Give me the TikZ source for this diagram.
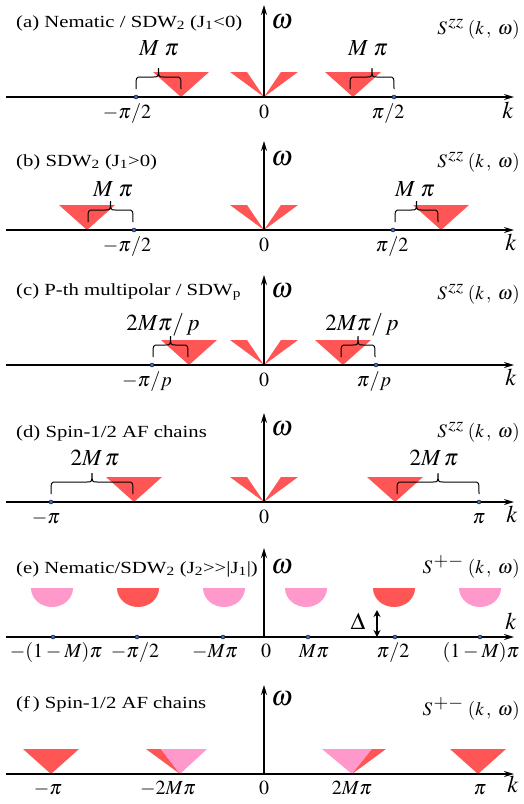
\documentclass[tikz,border=0pt]{standalone}
\usepackage{mathptmx}
\usepackage[no-math]{fontspec}
\setmainfont{Liberation Serif}
\newfontfamily\ttlfont[FakeStretch=1.22]{Liberation Serif}
\usepackage{xcolor}
\usetikzlibrary{arrows.meta}
\definecolor{peakred}{HTML}{FF5555}
\definecolor{peakpink}{HTML}{FF99CC}
\definecolor{dotblue}{HTML}{3C78C8}
% continuum below a soft point: inverted cone
\newcommand{\vcone}[2]{\fill[#2] (#1-28,-25) -- (#1+28,-25) -- (#1,0) -- cycle;}
% the two thin wedges at k=0
\newcommand{\spinwave}{%
  \fill[peakred] (264,0) -- (230,-25) -- (247,-25) -- cycle;
  \fill[peakred] (264,0) -- (281,-25) -- (298,-25) -- cycle;}
% gapped band
\newcommand{\bowl}[2]{\fill[#2] (#1-21,-49) .. controls (#1-21,-38.5) and (#1-11.6,-30) .. (#1,-30)
  .. controls (#1+11.6,-30) and (#1+21,-38.5) .. (#1+21,-49) -- cycle;}
% curly brace over a shift
\newcommand{\spanbrace}[2]{\draw[line width=1pt] (#1,-8) .. controls (#1,-20) .. (#1+5,-20)
  -- ({(#1+#2)/2-5},-20) .. controls ({(#1+#2)/2},-20) .. ({(#1+#2)/2},-29)
  .. controls ({(#1+#2)/2},-20) .. ({(#1+#2)/2+5},-20) -- (#2-5,-20) .. controls (#2,-20) .. (#2,-8);}
% structure factor labels
\newcommand{\szz}{$S^{\,\textstyle zz}\;(k\,,\;\omega)$}
\newcommand{\spm}{$S^{\,\textstyle {+}{-}}\;(k\,,\;\omega)$}

\begin{document}
\begin{tikzpicture}[
  x=1pt, y=-1pt,
  axline/.style={-{Stealth[length=10pt,width=6pt]}, line width=1.5pt},
  gaparr/.style={{Stealth[length=7pt,width=7pt]}-{Stealth[length=7pt,width=7pt]}, line width=1.5pt},
  kdot/.style={circle, draw=black, fill=dotblue, line width=0.4pt, inner sep=0pt, minimum size=4pt},
  ttl/.style={anchor=base west, inner sep=0pt, font=\fontsize{17}{20}\ttlfont},
  fnl/.style={anchor=base east, inner sep=0pt, font=\fontsize{19}{22}\selectfont},
  wlab/.style={anchor=base west, inner sep=0pt, font=\fontsize{28}{32}\selectfont},
  ticklab/.style={anchor=base, inner sep=0pt, font=\fontsize{20}{24}\selectfont},
  klab/.style={anchor=base, inner sep=0pt, font=\fontsize{24}{28}\selectfont},
  spanlab/.style={anchor=base, inner sep=0pt, font=\fontsize{23}{27}\selectfont}
]
\useasboundingbox (0,0) rectangle (524,804);

% (a)
\begin{scope}[shift={(0,97)}]
  \vcone{181}{peakred} \vcone{353}{peakred} \spinwave
  \coordinate (a-l) at (6,0); \coordinate (a-r) at (514,0);
  \coordinate (a-o) at (264,0); \coordinate (a-top) at (264,-92);
  \draw[axline] (a-l) -- (a-r);
  \draw[axline] (a-o) -- (a-top);
  \node[kdot] (a-d1) at (136,0) {};
  \node[kdot] (a-d2) at (394,0) {};
  \spanbrace{136}{181} \spanbrace{350}{394}
  \node[spanlab] (a-s1) at (159,-42) {$M\;\pi$};
  \node[spanlab] (a-s2) at (368,-42) {$M\;\pi$};
  \node[ttl] (a-ttl) at (16,-70) {(a) Nematic / SDW\textsubscript{2} (J\textsubscript{1}<0)};
  \node[fnl] (a-fn) at (520,-63) {\szz};
  \node[wlab] (a-w) at (271,-69) {$\omega$};
  \node[ticklab] (a-t1) at (127,21) {$-\pi/2$};
  \node[ticklab] (a-t0) at (264,21) {$0$};
  \node[ticklab] (a-t2) at (388,21) {$\pi/2$};
  \node[klab] (a-k) at (508,21) {$k$};
\end{scope}

% (b)
\begin{scope}[shift={(0,230)}]
  \vcone{87}{peakred} \vcone{441}{peakred} \spinwave
  \coordinate (b-l) at (6,0); \coordinate (b-r) at (514,0);
  \coordinate (b-o) at (264,0); \coordinate (b-top) at (264,-89);
  \draw[axline] (b-l) -- (b-r);
  \draw[axline] (b-o) -- (b-top);
  \node[kdot] (b-d1) at (134,0) {};
  \node[kdot] (b-d2) at (393,0) {};
  \spanbrace{88}{133} \spanbrace{395}{438}
  \node[spanlab] (b-s1) at (113,-34) {$M\;\pi$};
  \node[spanlab] (b-s2) at (415,-34) {$M\;\pi$};
  \node[ttl] (b-ttl) at (16,-64) {(b) SDW\textsubscript{2} (J\textsubscript{1}>0)};
  \node[fnl] (b-fn) at (520,-63) {\szz};
  \node[wlab] (b-w) at (271,-65) {$\omega$};
  \node[ticklab] (b-t1) at (127,21) {$-\pi/2$};
  \node[ticklab] (b-t0) at (264,21) {$0$};
  \node[ticklab] (b-t2) at (392,21) {$\pi/2$};
  \node[klab] (b-k) at (511,20) {$k$};
\end{scope}

% (c)
\begin{scope}[shift={(0,365)}]
  \vcone{189}{peakred} \vcone{343}{peakred} \spinwave
  \coordinate (c-l) at (6,0); \coordinate (c-r) at (514,0);
  \coordinate (c-o) at (264,0); \coordinate (c-top) at (264,-90);
  \draw[axline] (c-l) -- (c-r);
  \draw[axline] (c-o) -- (c-top);
  \node[kdot] (c-d1) at (152,0) {};
  \node[kdot] (c-d2) at (376,0) {};
  \spanbrace{153}{188} \spanbrace{341}{375}
  \node[spanlab] (c-s1) at (163,-35) {$2M\pi/\,p$};
  \node[spanlab] (c-s2) at (362,-35) {$2M\pi/\,p$};
  \node[ttl] (c-ttl) at (16,-70) {(c) P-th multipolar / SDW\textsubscript{p}};
  \node[fnl] (c-fn) at (520,-66) {\szz};
  \node[wlab] (c-w) at (271,-68) {$\omega$};
  \node[ticklab] (c-t1) at (147,21) {$-\pi/p$};
  \node[ticklab] (c-t0) at (264,21) {$0$};
  \node[ticklab] (c-t2) at (374,21) {$\pi/p$};
  \node[klab] (c-k) at (511,20) {$k$};
\end{scope}

% (d)
\begin{scope}[shift={(0,502)}]
  \vcone{134}{peakred} \vcone{395}{peakred} \spinwave
  \coordinate (d-l) at (6,0); \coordinate (d-r) at (514,0);
  \coordinate (d-o) at (264,0); \coordinate (d-top) at (264,-89);
  \draw[axline] (d-l) -- (d-r);
  \draw[axline] (d-o) -- (d-top);
  \node[kdot] (d-d1) at (51,0) {};
  \node[kdot] (d-d2) at (479,0) {};
  \spanbrace{51}{133} \spanbrace{397}{479}
  \node[spanlab] (d-s1) at (95,-37) {$2M\,\pi$};
  \node[spanlab] (d-s2) at (434,-37) {$2M\,\pi$};
  \node[ttl] (d-ttl) at (16,-65) {(d) Spin-1/2 AF chains};
  \node[fnl] (d-fn) at (520,-65) {\szz};
  \node[wlab] (d-w) at (271,-67) {$\omega$};
  \node[ticklab] (d-t1) at (46,21) {$-\pi$};
  \node[ticklab] (d-t0) at (264,21) {$0$};
  \node[ticklab] (d-t2) at (479,21) {$\pi$};
  \node[klab] (d-k) at (512,20) {$k$};
\end{scope}

% (e)
\begin{scope}[shift={(0,637)}]
  \bowl{52}{peakpink} \bowl{138}{peakred} \bowl{224}{peakpink}
  \bowl{306}{peakpink} \bowl{394}{peakred} \bowl{480}{peakpink}
  \coordinate (e-l) at (6,0); \coordinate (e-r) at (514,0);
  \coordinate (e-o) at (264,0); \coordinate (e-top) at (264,-89);
  \draw[axline] (e-l) -- (e-r);
  \draw[axline] (e-o) -- (e-top);
  \foreach \kx [count=\i] in {53,137,223,308,395,480}
    \node[kdot] (e-d\i) at (\kx,0) {};
  \coordinate (e-gb) at (377,0); \coordinate (e-gt) at (377,-27);
  \draw[gaparr] (e-gb) -- (e-gt);
  \node[anchor=base, inner sep=0pt, font=\fontsize{24}{28}\selectfont] (e-gap) at (358,-8) {$\Delta$};
  \node[ttl] (e-ttl) at (16,-64) {(e) Nematic/SDW\textsubscript{2} (J\textsubscript{2}>{}>|J\textsubscript{1}|)};
  \node[fnl] (e-fn) at (520,-64) {\spm};
  \node[wlab] (e-w) at (271,-64) {$\omega$};
  \node[klab] (e-k) at (511,-8) {$k$};
  \node[ticklab] (e-t1) at (56,20) {$-(1-M)\pi$};
  \node[ticklab] (e-t2) at (135,20) {$-\pi/2$};
  \node[ticklab] (e-t3) at (215,20) {$-M\pi$};
  \node[ticklab] (e-t0) at (266,20) {$0$};
  \node[ticklab] (e-t4) at (314,20) {$M\pi$};
  \node[ticklab] (e-t5) at (393,20) {$\pi/2$};
  \node[ticklab] (e-t6) at (481,20) {$(1-M)\pi$};
\end{scope}

% (f)
\begin{scope}[shift={(0,774)}]
  \vcone{51}{peakred} \vcone{478}{peakred}
  \fill[peakred] (146,-25) -- (161,-25) -- (180,0) -- cycle;
  \fill[peakpink] (161,-25) -- (207,-25) -- (180,0) -- cycle;
  \fill[peakpink] (322,-25) -- (372,-25) -- (352,0) -- cycle;
  \fill[peakred] (372,-25) -- (386,-25) -- (352,0) -- cycle;
  \coordinate (f-l) at (6,0); \coordinate (f-r) at (514,0);
  \coordinate (f-o) at (264,0); \coordinate (f-top) at (264,-89);
  \draw[axline] (f-l) -- (f-r);
  \draw[axline] (f-o) -- (f-top);
  \node[ttl] (f-ttl) at (16,-66) {(f\,) Spin-1/2 AF chains};
  \node[fnl] (f-fn) at (520,-59) {\spm};
  \node[wlab] (f-w) at (271,-69) {$\omega$};
  \node[ticklab] (f-t1) at (48,20) {$-\pi$};
  \node[ticklab] (f-t2) at (168,20) {$-2M\pi$};
  \node[ticklab] (f-t0) at (264,20) {$0$};
  \node[ticklab] (f-t3) at (352,20) {$2M\pi$};
  \node[ticklab] (f-t4) at (480,20) {$\pi$};
  \node[klab] (f-k) at (513,18) {$k$};
\end{scope}
\end{tikzpicture}
\end{document}
